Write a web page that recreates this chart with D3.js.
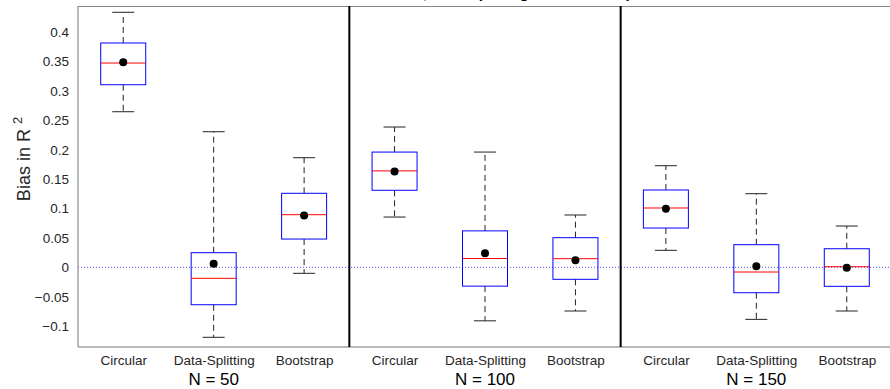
<!DOCTYPE html>
<html><head><meta charset="utf-8">
<script src="https://cdn.jsdelivr.net/npm/d3@7"></script>
<style>body{margin:0;background:#fff}svg{display:block}text{font-family:"Liberation Sans",Arial,sans-serif}</style>
</head><body>
<svg id="c" width="890" height="389"></svg>
<script>
const methods = ["Circular", "Data-Splitting", "Bootstrap"];
const groups = ["N = 50", "N = 100", "N = 150"];
const titleText = "Bias in R² for Circular, Data-Splitting and Bootstrap Methods";
// per box (group-major order)
const whiskLow  = [0.2646, -0.119, -0.0102, 0.0855, -0.091, -0.0743, 0.0289, -0.0885, -0.0743];
const q1        = [0.3105, -0.0636, 0.0481, 0.131, -0.032, -0.0204, 0.0668, -0.0432, -0.0323];
const medians   = [0.3474, -0.0187, 0.0895, 0.164, 0.015, 0.0147, 0.1009, -0.008, 0.001];
const q3        = [0.3815, 0.0249, 0.1259, 0.196, 0.062, 0.0504, 0.1315, 0.0385, 0.0316];
const whiskHigh = [0.4337, 0.2306, 0.1864, 0.2386, 0.196, 0.089, 0.1728, 0.1252, 0.0702];
const means     = [0.3486, 0.0062, 0.088, 0.163, 0.024, 0.012, 0.0997, 0.0017, -0.0007];
const yTicks = [-0.1, -0.05, 0, 0.05, 0.1, 0.15, 0.2, 0.25, 0.3, 0.35, 0.4];

const svg = d3.select("#c");
const L = 78, R = 892, T = 6, B = 347;
const x = d3.scaleLinear().domain([0.5, 9.5]).range([L, R]);
const y = d3.scaleLinear().domain([-0.1355, 0.4444]).range([B, T]);
const boxW = 45, capW = 22;
const FONT = "Liberation Sans, Arial, sans-serif";

const boxes = whiskLow.map((d, i) => ({pos: i + 1, lo: d, q1: q1[i], med: medians[i], q3: q3[i], hi: whiskHigh[i], mean: means[i]}));

// title (clipped at the top edge, as in the reference)
svg.append("text").attr("x", (L + R) / 2).attr("y", -2.5).attr("text-anchor", "middle")
  .attr("font-size", 15).attr("font-weight", "bold").attr("fill", "#000").text(titleText);

// zero line
svg.append("line").attr("x1", L).attr("x2", R).attr("y1", y(0)).attr("y2", y(0))
  .attr("stroke", "#5555ff").attr("stroke-width", 1).attr("stroke-dasharray", "1,2");

// axes frame
const yAxis = d3.axisLeft(y).tickValues(yTicks).tickSize(0).tickPadding(9).tickFormat(d => d3.format("")(+d.toFixed(2)));
const gy = svg.append("g").attr("transform", `translate(${L},0)`).call(yAxis);
gy.select(".domain").attr("stroke", "#777").attr("d", `M0,${T}V${B}`);
gy.selectAll("text").attr("font-size", 13.5).attr("fill", "#262626").attr("font-family", FONT);

svg.append("line").attr("x1", L).attr("x2", R).attr("y1", T + 0.5).attr("y2", T + 0.5).attr("stroke", "#888");

const xAxis = d3.axisBottom(x).tickValues(d3.range(1, 10)).tickSize(0).tickPadding(8)
  .tickFormat(d => methods[(d - 1) % 3]);
const gx = svg.append("g").attr("transform", `translate(0,${B})`).call(xAxis);
gx.select(".domain").attr("stroke", "#777").attr("d", `M${L},0H${R}`);
gx.selectAll("text").attr("font-size", 13.5).attr("fill", "#262626").attr("font-family", FONT);

// group labels
svg.selectAll(".glab").data(groups).join("text").attr("class", "glab")
  .attr("x", (d, i) => x(i * 3 + 2)).attr("y", 385).attr("text-anchor", "middle")
  .attr("font-size", 17).attr("fill", "#000").text(d => d);

// separators
svg.selectAll(".sep").data([3.5, 6.5]).join("line").attr("class", "sep")
  .attr("x1", d => x(d)).attr("x2", d => x(d)).attr("y1", T).attr("y2", B)
  .attr("stroke", "#000").attr("stroke-width", 2);

// y label
const yl = svg.append("text").attr("transform", `translate(30,159) rotate(-90)`)
  .attr("text-anchor", "middle").attr("font-size", 18).attr("fill", "#262626");
yl.append("tspan").text("Bias in R ");
yl.append("tspan").attr("font-size", 13).attr("dy", -8).text("2");

// boxes
const g = svg.selectAll(".box").data(boxes).join("g").attr("class", "box");
g.append("line").attr("x1", d => x(d.pos)).attr("x2", d => x(d.pos)).attr("y1", d => y(d.q3)).attr("y2", d => y(d.hi))
  .attr("stroke", "#222").attr("stroke-dasharray", "6,4");
g.append("line").attr("x1", d => x(d.pos)).attr("x2", d => x(d.pos)).attr("y1", d => y(d.q1)).attr("y2", d => y(d.lo))
  .attr("stroke", "#222").attr("stroke-dasharray", "6,4");
g.append("line").attr("x1", d => x(d.pos) - capW / 2).attr("x2", d => x(d.pos) + capW / 2).attr("y1", d => y(d.hi)).attr("y2", d => y(d.hi)).attr("stroke", "#222");
g.append("line").attr("x1", d => x(d.pos) - capW / 2).attr("x2", d => x(d.pos) + capW / 2).attr("y1", d => y(d.lo)).attr("y2", d => y(d.lo)).attr("stroke", "#222");
g.append("rect").attr("x", d => x(d.pos) - boxW / 2).attr("width", boxW).attr("y", d => y(d.q3)).attr("height", d => y(d.q1) - y(d.q3))
  .attr("fill", "none").attr("stroke", "#0000ff");
g.append("line").attr("x1", d => x(d.pos) - boxW / 2).attr("x2", d => x(d.pos) + boxW / 2).attr("y1", d => y(d.med)).attr("y2", d => y(d.med)).attr("stroke", "#ff0000");
g.append("circle").attr("cx", d => x(d.pos)).attr("cy", d => y(d.mean)).attr("r", 4).attr("fill", "#000");
</script>
</body></html>
